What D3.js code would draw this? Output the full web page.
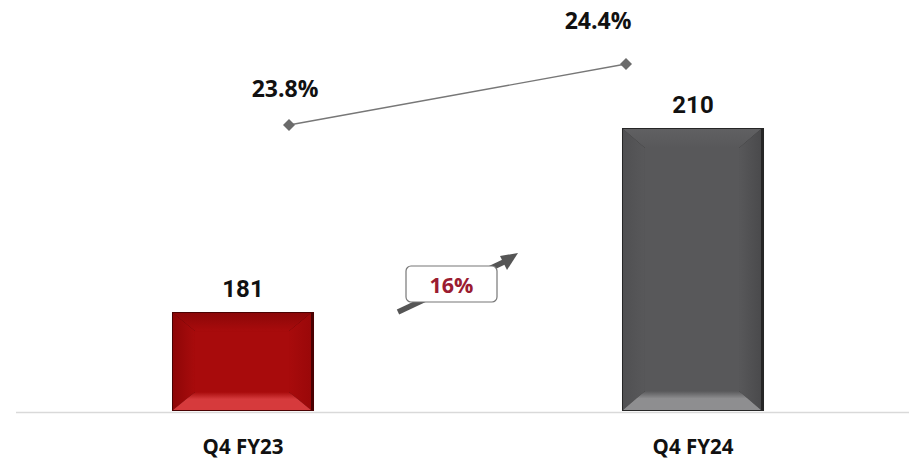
<!DOCTYPE html>
<html><head><meta charset="utf-8">
<script src="https://cdn.jsdelivr.net/npm/d3@7"></script>
<style>body{margin:0;background:#fff}svg{display:block}</style>
</head><body>
<svg id="c" width="909" height="472"></svg>
<script>
const categories = ["Q4 FY23", "Q4 FY24"];
const values = [181, 210];
const margins = [23.8, 24.4];
const growthLabel = "16%";

const svg = d3.select("#c");
const FONT = "'Open Sans', 'Noto Sans', sans-serif";

const x = d3.scaleBand().domain(categories).range([18, 918]).paddingInner(0.6844).paddingOuter(0.3422);
const y = d3.scaleLinear().domain([165.4, 210]).range([411, 128]);
const xl = d3.scalePoint().domain(categories).range([289, 626]);
const yl = d3.scaleLinear().domain([23.8, 24.4]).range([125, 64]);

const defs = svg.append("defs");
const palettes = [
  {main:"#a80b0c", top:"#8c0708", bottom:"#d63a3c", left:"#8e0607", right:"#9a0809", edge:"#4a0102"},
  {main:"#58585a", top:"#606062", bottom:"#8e8e90", left:"#505052", right:"#4a4a4c", edge:"#262626"}
];

svg.append("line").attr("x1", 16).attr("x2", 909).attr("y1", 412.5).attr("y2", 412.5)
  .attr("stroke", "#d9d9d9").attr("stroke-width", 1.5);

categories.forEach((c, i) => {
  const p = palettes[i];
  const x0 = x(c), x1 = x0 + x.bandwidth(), y0 = y(values[i]), y1 = y(165.4);
  const ih = 22, iv = Math.min(19, (y1 - y0) / 5.5);
  const g = svg.append("g");
  g.append("rect").attr("x", x0).attr("y", y0).attr("width", x1 - x0).attr("height", y1 - y0).attr("fill", p.edge);
  const a = x0 + 1, b = x1 - 3, t = y0 + 1, bt = y1 - 1;
  const pts = (arr) => arr.map(d => d.join(",")).join(" ");
  const ix0 = a + ih, ix1 = b - ih, iy0 = t + iv, iy1 = bt - iv;
  const gidT = "gt" + i, gidB = "gb" + i, gidL = "gl" + i, gidR = "gr" + i;
  const gt = defs.append("linearGradient").attr("id", gidT).attr("x1", 0).attr("y1", 0).attr("x2", 0).attr("y2", 1);
  gt.append("stop").attr("offset", 0).attr("stop-color", p.top);
  gt.append("stop").attr("offset", 1).attr("stop-color", p.main);
  const gb = defs.append("linearGradient").attr("id", gidB).attr("x1", 0).attr("y1", 0).attr("x2", 0).attr("y2", 1);
  gb.append("stop").attr("offset", 0).attr("stop-color", p.main);
  gb.append("stop").attr("offset", 0.4).attr("stop-color", p.bottom);
  gb.append("stop").attr("offset", 1).attr("stop-color", p.bottom);
  const gl = defs.append("linearGradient").attr("id", gidL).attr("x1", 0).attr("y1", 0).attr("x2", 1).attr("y2", 0);
  gl.append("stop").attr("offset", 0).attr("stop-color", p.left);
  gl.append("stop").attr("offset", 1).attr("stop-color", p.main);
  const gr = defs.append("linearGradient").attr("id", gidR).attr("x1", 0).attr("y1", 0).attr("x2", 1).attr("y2", 0);
  gr.append("stop").attr("offset", 0).attr("stop-color", p.main);
  gr.append("stop").attr("offset", 1).attr("stop-color", p.right);
  g.append("polygon").attr("points", pts([[a,t],[ix0,iy0],[ix0,iy1],[a,bt]])).attr("fill", `url(#${gidL})`);
  g.append("polygon").attr("points", pts([[b,t],[ix1,iy0],[ix1,iy1],[b,bt]])).attr("fill", `url(#${gidR})`);
  g.append("polygon").attr("points", pts([[a,t],[b,t],[ix1,iy0],[ix0,iy0]])).attr("fill", `url(#${gidT})`);
  g.append("polygon").attr("points", pts([[a,bt],[b,bt],[ix1,iy1],[ix0,iy1]])).attr("fill", `url(#${gidB})`);
  g.append("rect").attr("x", ix0).attr("y", iy0).attr("width", ix1 - ix0).attr("height", iy1 - iy0).attr("fill", p.main);
});

svg.selectAll(".vl").data(values).enter().append("text")
  .attr("x", (d, i) => x(categories[i]) + x.bandwidth() / 2)
  .attr("y", d => y(d) - 15)
  .attr("text-anchor", "middle")
  .attr("font-family", "Roboto, sans-serif").attr("font-weight", 700).attr("font-size", 24)
  .attr("fill", "#111").text(d => d);

svg.selectAll(".cl").data(categories).enter().append("text")
  .attr("x", d => x(d) + x.bandwidth() / 2)
  .attr("y", 454)
  .attr("text-anchor", "middle")
  .attr("font-family", FONT).attr("font-weight", 700).attr("font-size", 20.5)
  .attr("fill", "#111").text(d => d);

svg.append("path").datum(margins)
  .attr("d", d3.line().x((d, i) => xl(categories[i])).y(d => yl(d)))
  .attr("fill", "none").attr("stroke", "#777").attr("stroke-width", 1.3);
svg.selectAll(".mk").data(margins).enter().append("path")
  .attr("d", d3.symbol(d3.symbolSquare, 72))
  .attr("transform", (d, i) => `translate(${xl(categories[i])},${yl(d)}) rotate(45)`)
  .attr("fill", "#6b6b6b");
const mdx = [-4, -28], mdy = [-28, -35];
svg.selectAll(".ml").data(margins).enter().append("text")
  .attr("x", (d, i) => xl(categories[i]) + mdx[i])
  .attr("y", (d, i) => yl(d) + mdy[i])
  .attr("text-anchor", "middle")
  .attr("font-family", FONT).attr("font-weight", 700).attr("font-size", 23)
  .attr("fill", "#111").text(d => d.toFixed(1) + "%");

const ag = svg.append("g");
ag.append("line").attr("x1", 398).attr("y1", 312).attr("x2", 506).attr("y2", 261)
  .attr("stroke", "#555").attr("stroke-width", 5.5);
ag.append("polygon").attr("points", "518,253 500,256 507,270").attr("fill", "#555");
ag.append("rect").attr("x", 406).attr("y", 266).attr("width", 91).attr("height", 36).attr("rx", 5)
  .attr("fill", "#fff").attr("stroke", "#777").attr("stroke-width", 1.2);
ag.append("text").attr("x", 451.5).attr("y", 292.5).attr("text-anchor", "middle")
  .attr("font-family", FONT).attr("font-weight", 700).attr("font-size", 21.5)
  .attr("fill", "#9b1c31").text(growthLabel);
</script>
</body></html>
